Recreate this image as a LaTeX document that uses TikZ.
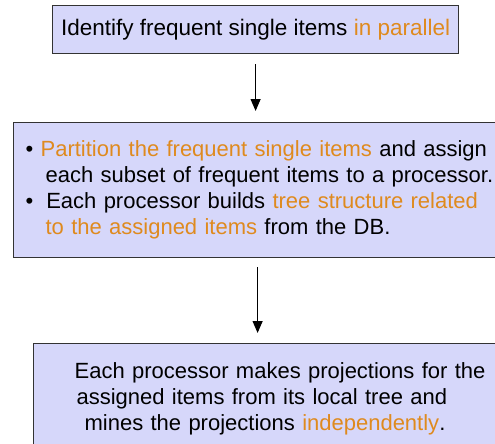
\documentclass[tikz,border=0pt]{standalone}
\usepackage{fontspec}
\setmainfont{Liberation Sans}
\usepackage{xcolor}
\usepackage{tikz}
\usetikzlibrary{arrows.meta,positioning}
\definecolor{boxfill}{HTML}{D6D7FA}
\definecolor{hilite}{HTML}{DF8A1E}
\definecolor{boxline}{HTML}{333333}

\begin{document}
\begin{tikzpicture}[
  x=1pt, y=1pt,
  box/.style={rectangle, draw=boxline, fill=boxfill, line width=1.2pt,
    font=\fontsize{22}{26}\selectfont, inner ysep=0pt},
  flow/.style={-{Triangle[width=10pt,length=12pt]}, line width=1.1pt, black},
]
  \useasboundingbox (0,0) rectangle (495,-444);
  \clip (0,0) rectangle (495,-444);

  \node[box, anchor=north west, minimum width=406pt, minimum height=48pt,
    font=\fontsize{22.5}{26}\selectfont]
    (ident) at (52,-5) {Identify frequent single items \textcolor{hilite}{in parallel}};

  \node[box, anchor=north west, text width=480pt, inner xsep=12pt,
    minimum height=135pt, align=left] (part) at (13,-122) {%
    \textbullet\ \textcolor{hilite}{Partition the frequent single items} and assign\\
    \hspace*{20pt}each subset of frequent items to a processor.\\
    \textbullet\hspace{13pt}Each processor builds \textcolor{hilite}{tree structure related}\\
    \hspace*{20pt}\textcolor{hilite}{to the assigned items} from the DB.};

  \node[box, anchor=north west, text width=470pt, inner xsep=41pt,
    minimum height=110pt, align=left] (mine) at (33,-343) {%
    Each processor makes projections for the\\
    \hspace*{2pt}assigned items from its local tree and\\
    \hspace*{10pt}mines the projections \textcolor{hilite}{independently}.};

  \draw[flow, shorten <=10pt, shorten >=11pt] (ident.south) -- (ident.south |- part.north);
  \draw[flow, shorten <=9pt, shorten >=10pt]
    ([xshift=2pt]ident.south |- part.south) -- ([xshift=2pt]ident.south |- mine.north);
\end{tikzpicture}
\end{document}
